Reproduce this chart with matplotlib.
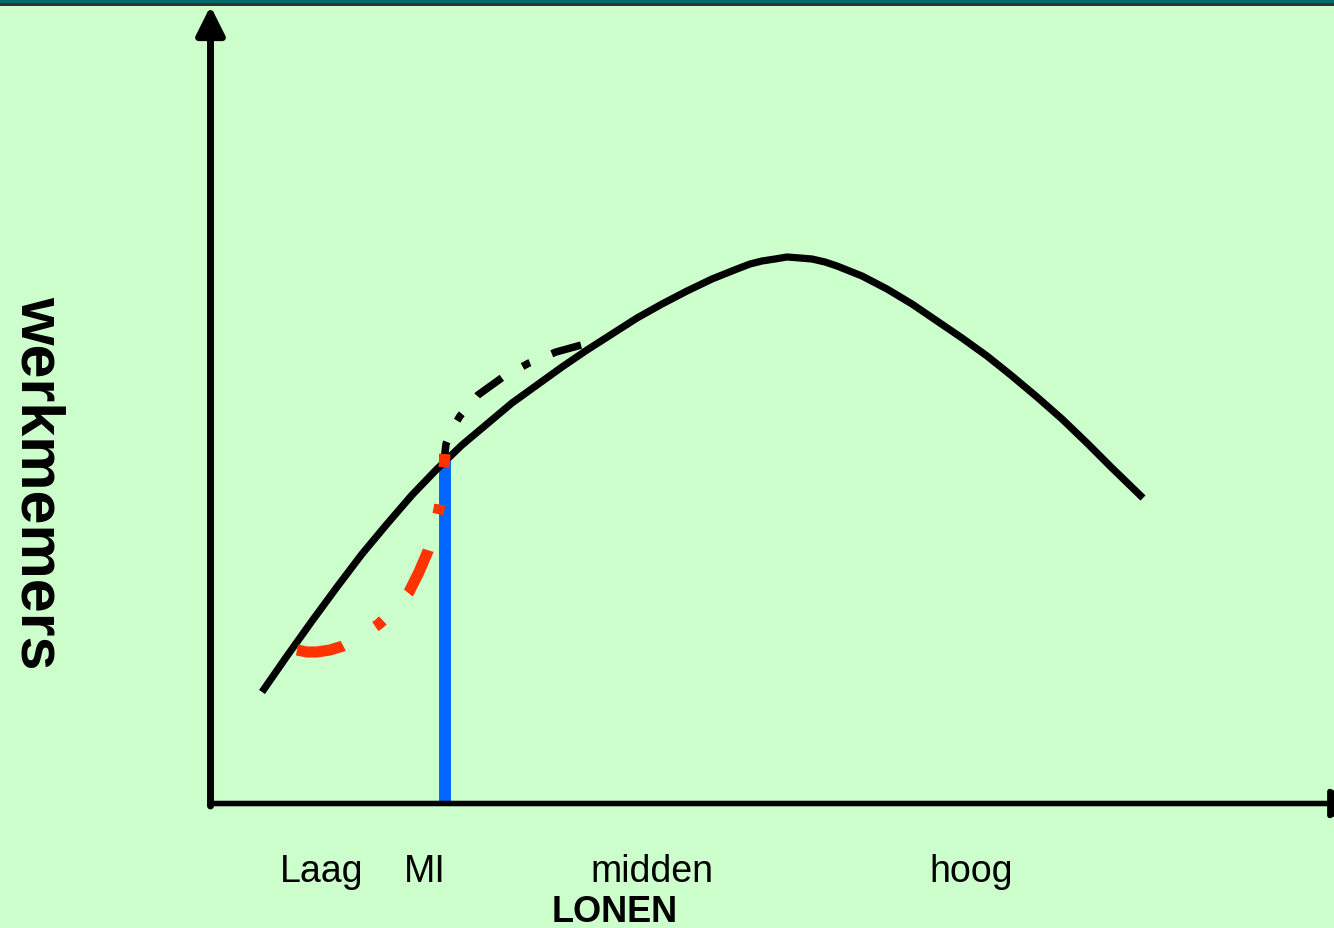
import matplotlib
matplotlib.use("Agg")
import matplotlib.pyplot as plt
from matplotlib.patches import Rectangle

plt.rcParams['lines.scale_dashes'] = False
plt.rcParams['font.family'] = ['Liberation Sans', 'DejaVu Sans']

# ---- data (wage on x, number of workers on y; origin at the axes corner) ----
curve_x = [52, 77, 102, 127, 152, 177, 202, 227, 252, 277, 302, 327, 352, 377, 402,
           427, 452, 477, 502, 527, 540, 552, 565, 577, 590, 602, 615, 627, 652,
           677, 702, 727, 752, 777, 802, 827, 852, 877, 902, 933]
curve_y = [111, 147, 182, 216, 249, 279, 308, 334, 358, 379, 400, 418, 436, 453, 469,
           485, 499, 512, 524, 534, 539, 542, 544, 546, 545, 544, 541, 537, 527,
           514, 499, 482, 465, 447, 427, 406, 384, 360, 335, 305]

red_x = [87, 97, 107, 120, 133, 150, 169, 185, 199, 209, 218, 225, 229, 233, 235]
red_y = [153, 151, 151, 153, 157, 166, 179, 194, 211, 231, 252, 274, 294, 319, 349]

blk_x = [234, 236, 242, 250, 268, 293, 319, 346, 375]
blk_y = [342, 359, 374, 387, 408, 426, 440, 451, 459]

mi_x = 235
mi_top = 349

tick_labels = ["Laag", "MI", "midden", "hoog"]
tick_pos = [112, 215, 442, 761]
x_title = "LONEN"
y_title = "werkmemers"

# ---- figure ----
W, H = 1334, 929
OX, OY = 210, 804
fig = plt.figure(figsize=(W / 100, H / 100), dpi=100)
fig.patch.set_facecolor('#CCFFCC')
ax = fig.add_axes([0, 0, 1, 1])
ax.set_facecolor('#CCFFCC')
ax.set_xlim(-OX, W - OX)
ax.set_ylim(OY - H, OY)
ax.axis('off')

# top banner
fig.patches.append(Rectangle((0, 1 - 4 / H), 1, 4 / H, transform=fig.transFigure,
                             facecolor='#006B6B', edgecolor='none', zorder=10))
fig.patches.append(Rectangle((0, 1 - 7 / H), 1, 3 / H, transform=fig.transFigure,
                             facecolor='#333333', edgecolor='none', zorder=10))

# blue MI line
ax.plot([mi_x, mi_x], [2, mi_top], color='#0066FF', lw=8.6, solid_capstyle='butt', zorder=2)

# main curve
ax.plot(curve_x, curve_y, color='black', lw=5.2, solid_capstyle='butt',
        solid_joinstyle='round', zorder=3)

# black dash-dot
ax.plot(blk_x, blk_y, color='black', lw=5.4, linestyle=(8, (22, 17, 6, 17)),
        dash_capstyle='butt', zorder=4)

# red dash-dot
ax.plot(red_x, red_y, color='#FF3300', lw=8.0, linestyle=(0, (34, 27, 7, 27)),
        dash_capstyle='butt', zorder=5)

# axes arrows
arrow_y = dict(arrowstyle='-|>,head_length=0.4,head_width=0.2', color='black', lw=5.0,
               mutation_scale=43, shrinkA=0, shrinkB=0)
arrow_x = dict(arrowstyle='-|>,head_length=0.4,head_width=0.2', color='black', lw=4.0,
               mutation_scale=43, shrinkA=0, shrinkB=0)
ax.annotate('', xy=(0.5, 797), xytext=(0.5, -3), arrowprops=arrow_y, zorder=6)
ax.annotate('', xy=(1150, -0.5), xytext=(0, -0.5), arrowprops=arrow_x, zorder=6,
            annotation_clip=False)

# labels
for lab, xp in zip(tick_labels, tick_pos):
    ax.text(xp, -78, lab, ha='center', va='baseline', fontsize=27, color='black')
ax.text(405, -118, x_title, ha='center', va='baseline', fontsize=26,
        fontweight='bold', color='black')
ax.text(-173, 321, y_title, ha='center', va='center', rotation=-90, fontsize=44,
        fontweight='bold', color='black')

fig.savefig('out.png', dpi=100, facecolor=fig.get_facecolor())
